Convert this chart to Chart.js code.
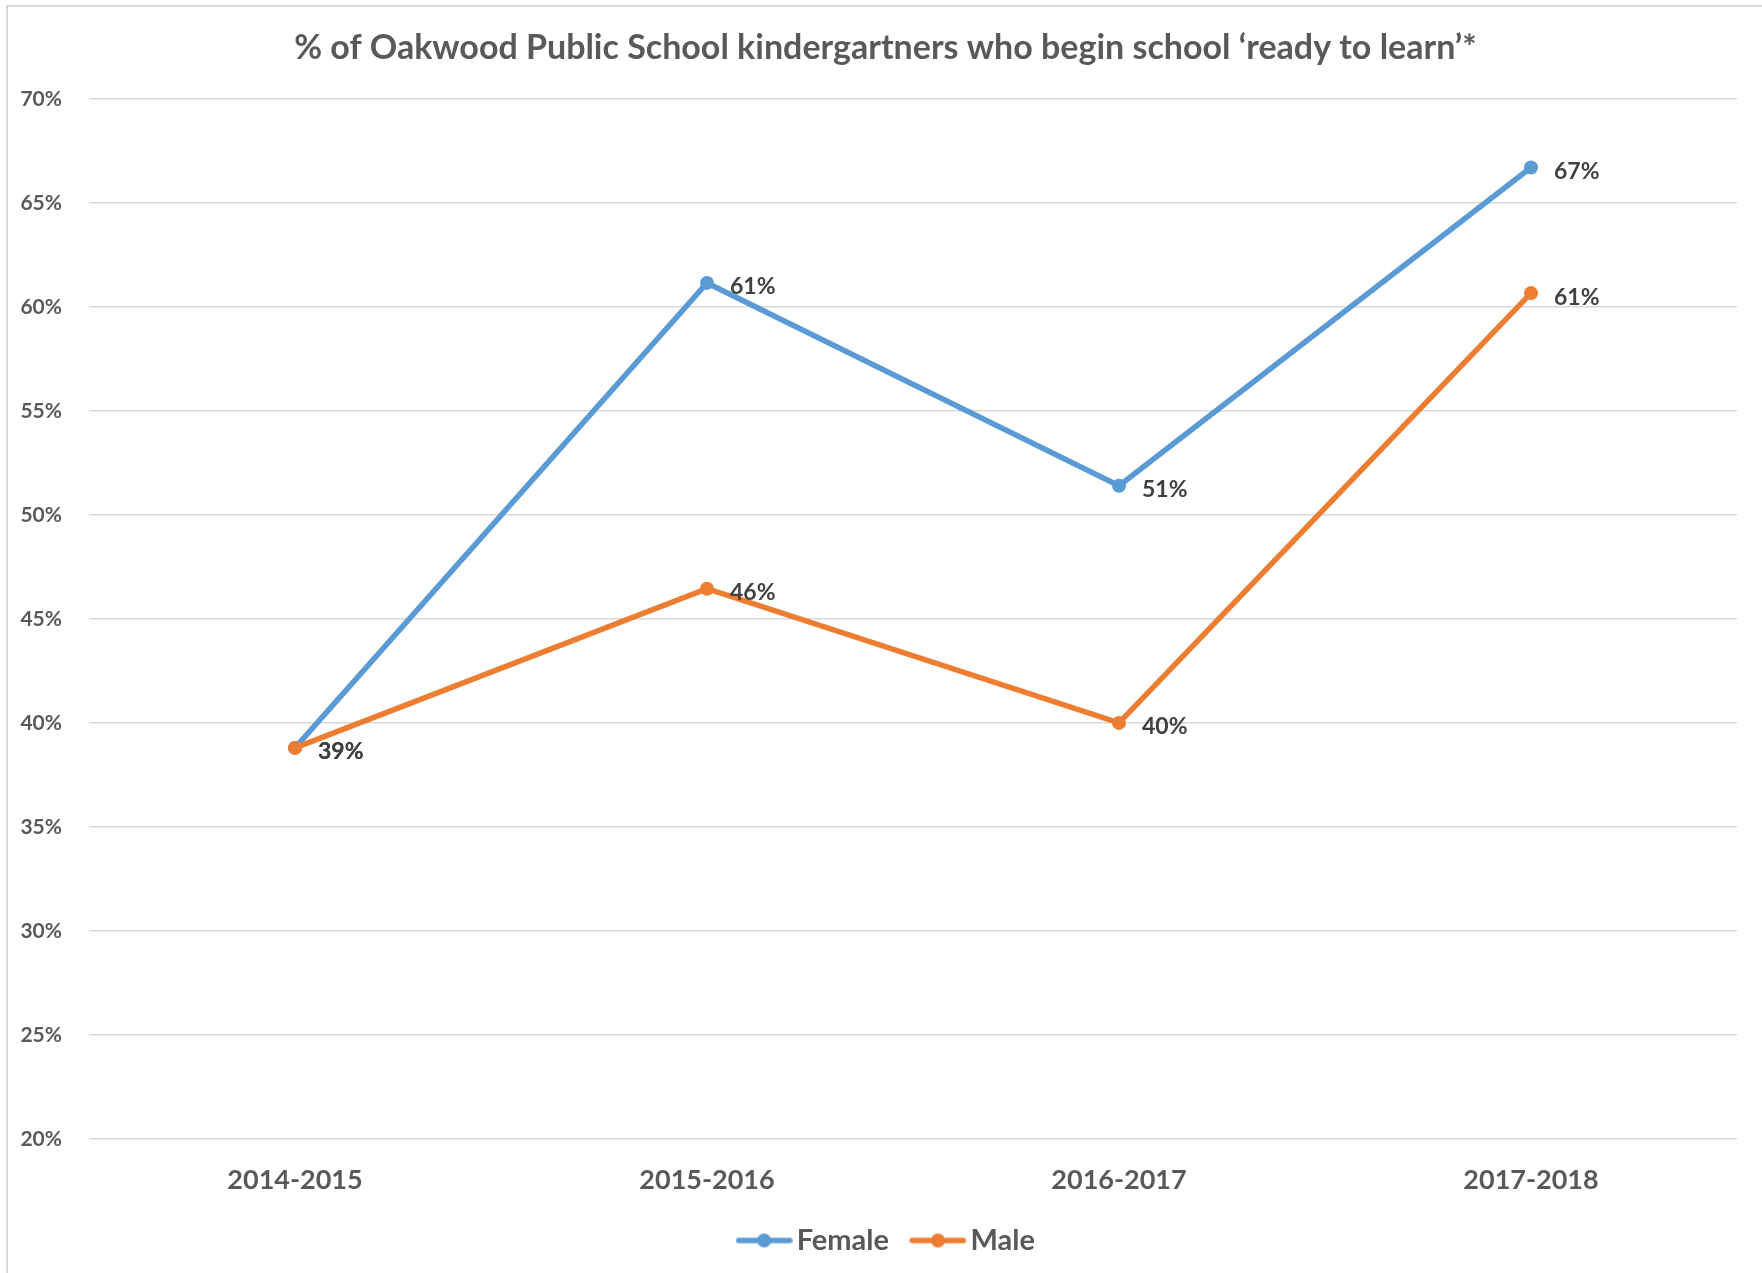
<!DOCTYPE html>
<html>
<head>
<meta charset="utf-8">
<title>Oakwood kindergartners ready to learn</title>
<script src="https://cdn.jsdelivr.net/npm/chart.js@4.4.1/dist/chart.umd.min.js"></script>
<style>
  html, body { margin: 0; padding: 0; background: #fff; }
  .frame {
    position: absolute; left: 6px; top: 5px; width: 1756px; height: 1268px;
    border-left: 2px solid #d9d9d9; border-top: 2px solid #d9d9d9; box-sizing: border-box;
  }
  .chart-box { position: absolute; left: 0; top: 0; width: 1762px; height: 1273px; }
</style>
</head>
<body>
<div class="frame"></div>
<div class="chart-box"><canvas id="myChart"></canvas></div>
<script>
const years = ["2014-2015", "2015-2016", "2016-2017", "2017-2018"];
const female = [38.8, 61.15, 51.4, 66.7];
const male = [38.8, 46.45, 40.0, 60.66];
const yTicks = [20, 25, 30, 35, 40, 45, 50, 55, 60, 65, 70];

const blue = "#5b9bd5";
const orange = "#ed7d31";
const textGray = "#595959";
const fontName = "Lato, 'Open Sans', sans-serif";

// little line+dot sample for the legend
function legendMark(color) {
  const c = document.createElement("canvas");
  c.width = 57;
  c.height = 16;
  const g = c.getContext("2d");
  g.strokeStyle = color;
  g.lineWidth = 5.5;
  g.lineCap = "round";
  g.beginPath();
  g.moveTo(3, 8);
  g.lineTo(54, 8);
  g.stroke();
  g.fillStyle = color;
  g.beginPath();
  g.arc(28.5, 8, 7, 0, Math.PI * 2);
  g.fill();
  return c;
}
const marks = [legendMark(blue), legendMark(orange)];

// value labels right of each point
const pointLabels = {
  id: "pointLabels",
  afterDatasetsDraw(chart) {
    const ctx = chart.ctx;
    ctx.save();
    ctx.font = "bold 23px " + fontName;
    ctx.fillStyle = "#404040";
    ctx.textAlign = "left";
    ctx.textBaseline = "middle";
    chart.data.datasets.forEach((ds, i) => {
      const meta = chart.getDatasetMeta(i);
      meta.data.forEach((pt, j) => {
        ctx.fillText(Math.round(ds.data[j]) + "%", pt.x + 23, pt.y + 4);
      });
    });
    ctx.restore();
  }
};

// nudge title and legend sideways to sit where the original has them
const nudge = {
  id: "nudge",
  afterLayout(chart) {
    chart.titleBlock.left += 17;
    chart.titleBlock.right += 17;
    chart.legend.left += 22;
    chart.legend.right += 22;
  }
};

const ctx = document.getElementById("myChart").getContext("2d");
const myChart = new Chart(ctx, {
  type: "line",
  data: {
    labels: years,
    datasets: [
      {
        label: "Female",
        data: female,
        borderColor: blue,
        backgroundColor: blue,
        borderWidth: 5.5,
        pointRadius: 7,
        pointBorderWidth: 0,
        pointBackgroundColor: blue,
        tension: 0,
        order: 1
      },
      {
        label: "Male",
        data: male,
        borderColor: orange,
        backgroundColor: orange,
        borderWidth: 5.5,
        pointRadius: 7,
        pointBorderWidth: 0,
        pointBackgroundColor: orange,
        tension: 0,
        order: 0
      }
    ]
  },
  options: {
    responsive: true,
    maintainAspectRatio: false,
    animation: false,
    layout: {
      padding: { left: 0, right: 25, top: 0, bottom: 8 }
    },
    plugins: {
      title: {
        display: true,
        text: "% of Oakwood Public School kindergartners who begin school \u2018ready to learn\u2019*",
        color: textGray,
        font: { family: fontName, size: 34, weight: "bold" },
        padding: { top: 28, bottom: 30 }
      },
      legend: {
        position: "bottom",
        labels: {
          usePointStyle: true,
          pointStyleWidth: 36,
          padding: 31,
          color: textGray,
          font: { family: fontName, size: 29, weight: "bold" },
          sort: (a, b) => a.datasetIndex - b.datasetIndex,
          generateLabels(chart) {
            const items = Chart.defaults.plugins.legend.labels.generateLabels(chart);
            items.forEach(it => { it.pointStyle = marks[it.datasetIndex]; });
            return items;
          }
        }
      },
      tooltip: { enabled: false }
    },
    scales: {
      x: {
        offset: true,
        grid: { display: false },
        border: { display: false },
        ticks: {
          color: textGray,
          padding: 17,
          font: { family: fontName, size: 27, weight: "bold" }
        },
        afterFit: scale => { scale.height = 56; }
      },
      y: {
        min: 20,
        max: 70,
        afterBuildTicks: scale => { scale.ticks = yTicks.map(v => ({ value: v })); },
        grid: { color: "#d9d9d9", lineWidth: 1.5, drawTicks: false },
        border: { display: false },
        ticks: {
          color: textGray,
          padding: 27,
          font: { family: fontName, size: 21, weight: "bold" },
          callback: v => v + "%"
        },
        afterFit: scale => { scale.width = 89; }
      }
    }
  },
  plugins: [pointLabels, nudge]
});
</script>
</body>
</html>
